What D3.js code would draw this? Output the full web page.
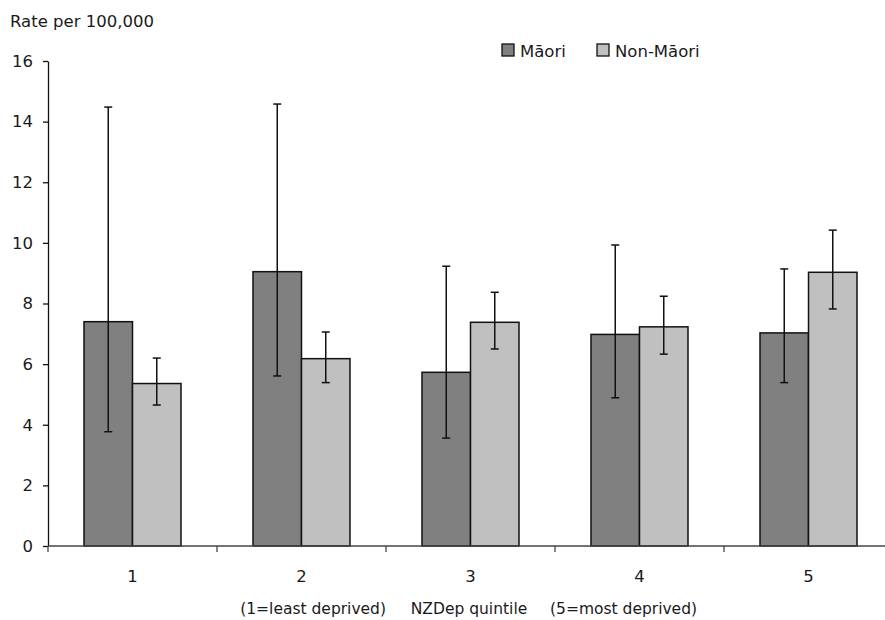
<!DOCTYPE html>
<html>
<head>
<meta charset="utf-8">
<script src="https://cdn.jsdelivr.net/npm/d3@7"></script>
<style>
  html, body { margin: 0; padding: 0; background: #fff; }
  svg { display: block; font-family: "DejaVu Sans", sans-serif; }
</style>
</head>
<body>
<svg id="chart" width="885" height="620"></svg>
<script>
// NZDep quintiles and series
const quintiles = ["1", "2", "3", "4", "5"];
const seriesNames = ["Māori", "Non-Māori"];
const seriesColors = ["#808080", "#c0c0c0"];

// Rates per 100,000 with 95% confidence limits
const maoriRate  = [7.40, 9.05, 5.73, 6.98, 7.03];
const maoriLow   = [3.77, 5.61, 3.56, 4.89, 5.39];
const maoriHigh  = [14.48, 14.58, 9.23, 9.93, 9.14];
const nonMaoriRate = [5.36, 6.18, 7.38, 7.23, 9.03];
const nonMaoriLow  = [4.65, 5.39, 6.50, 6.33, 7.82];
const nonMaoriHigh = [6.20, 7.06, 8.37, 8.24, 10.42];

const yTicks = [0, 2, 4, 6, 8, 10, 12, 14, 16];
const xTitleParts = ["(1=least deprived)", "NZDep quintile", "(5=most deprived)"];

const rates = [maoriRate, nonMaoriRate];
const lows = [maoriLow, nonMaoriLow];
const highs = [maoriHigh, nonMaoriHigh];

const svg = d3.select("#chart");
const plotLeft = 48, plotRight = 893, plotTop = 61, plotBottom = 546;
const textColor = "#1a1a1a";

const x0 = d3.scaleBand().domain(quintiles).range([plotLeft, plotRight])
  .paddingInner(0.426).paddingOuter(0.213);
const x1 = d3.scaleBand().domain(seriesNames).range([0, x0.bandwidth()]);
const y = d3.scaleLinear().domain([0, 16]).range([plotBottom, plotTop]);

// Bars
const groups = svg.append("g").selectAll("g")
  .data(quintiles).join("g")
  .attr("transform", d => `translate(${x0(d)},0)`);

seriesNames.forEach((s, si) => {
  groups.append("rect")
    .attr("x", x1(s))
    .attr("y", (d, i) => y(rates[si][i]))
    .attr("width", x1.bandwidth())
    .attr("height", (d, i) => y(0) - y(rates[si][i]))
    .attr("fill", seriesColors[si])
    .attr("stroke", "#111")
    .attr("stroke-width", 1.5);
});

// Error bars
const cap = 4;
seriesNames.forEach((s, si) => {
  const cx = x1(s) + x1.bandwidth() / 2;
  const eb = groups.append("g").attr("stroke", "#111").attr("stroke-width", 1.5);
  eb.append("line")
    .attr("x1", cx).attr("x2", cx)
    .attr("y1", (d, i) => y(lows[si][i]))
    .attr("y2", (d, i) => y(highs[si][i]));
  eb.append("line")
    .attr("x1", cx - cap).attr("x2", cx + cap)
    .attr("y1", (d, i) => y(highs[si][i]))
    .attr("y2", (d, i) => y(highs[si][i]));
  eb.append("line")
    .attr("x1", cx - cap).attr("x2", cx + cap)
    .attr("y1", (d, i) => y(lows[si][i]))
    .attr("y2", (d, i) => y(lows[si][i]));
});

// Y axis
const yAxis = svg.append("g")
  .attr("transform", `translate(${plotLeft},0)`)
  .call(d3.axisLeft(y).tickValues(yTicks).tickSize(5).tickPadding(10).tickSizeOuter(0));
yAxis.select(".domain").attr("stroke", "#111").attr("stroke-width", 1.3);
yAxis.selectAll(".tick line").attr("stroke", "#111").attr("stroke-width", 1.3);
yAxis.selectAll(".tick text").attr("font-size", 16.5).attr("fill", textColor)
  .attr("font-family", "'DejaVu Sans', sans-serif");

// X axis: ticks mark the boundaries between quintiles
const step = x0.step();
const boundaries = d3.range(quintiles.length + 1).map(i => plotLeft + i * step);
const xg = svg.append("g");
xg.append("line")
  .attr("x1", plotLeft).attr("x2", plotRight)
  .attr("y1", plotBottom).attr("y2", plotBottom)
  .attr("stroke", "#444").attr("stroke-width", 1.3);
xg.selectAll("line.tk").data(boundaries).join("line")
  .attr("class", "tk")
  .attr("x1", d => d).attr("x2", d => d)
  .attr("y1", plotBottom).attr("y2", plotBottom + 6)
  .attr("stroke", "#444").attr("stroke-width", 1.3);
xg.selectAll("text").data(quintiles).join("text")
  .attr("x", d => x0(d) + x0.bandwidth() / 2)
  .attr("y", 582)
  .attr("text-anchor", "middle")
  .attr("font-size", 16.5).attr("fill", textColor)
  .text(d => d);

// Axis titles
svg.append("text")
  .attr("x", 10).attr("y", 27)
  .attr("font-size", 16.5).attr("fill", textColor)
  .text("Rate per 100,000");

const xTitle = svg.append("g").attr("font-size", 15.5).attr("fill", textColor);
xTitle.append("text").attr("x", 386).attr("y", 614)
  .attr("text-anchor", "end").text(xTitleParts[0]);
xTitle.append("text").attr("x", 469).attr("y", 614)
  .attr("text-anchor", "middle").text(xTitleParts[1]);
xTitle.append("text").attr("x", 550).attr("y", 614)
  .attr("text-anchor", "start").text(xTitleParts[2]);

// Legend
const legendX = [502, 597];
const legend = svg.append("g");
seriesNames.forEach((s, si) => {
  legend.append("rect")
    .attr("x", legendX[si]).attr("y", 44)
    .attr("width", 12).attr("height", 12)
    .attr("fill", seriesColors[si])
    .attr("stroke", "#111").attr("stroke-width", 1.3);
  legend.append("text")
    .attr("x", legendX[si] + 18).attr("y", 57)
    .attr("font-size", 16.5).attr("fill", textColor)
    .text(s);
});
</script>
</body>
</html>
